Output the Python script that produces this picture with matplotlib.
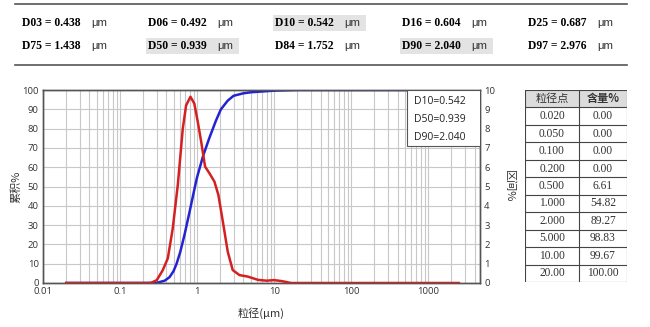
import matplotlib
matplotlib.use("Agg")
import matplotlib.pyplot as plt
import matplotlib.patches as patches
from matplotlib.lines import Line2D
from matplotlib.ticker import FixedLocator, FixedFormatter, LogLocator, NullFormatter

plt.rcParams['font.family'] = ['Open Sans', 'Noto Sans CJK SC', 'DejaVu Sans']

# Характерные диаметры (верхняя сводка)
d_names_row1 = ['D03', 'D06', 'D10', 'D16', 'D25']
d_values_row1 = ['0.438', '0.492', '0.542', '0.604', '0.687']
d_names_row2 = ['D75', 'D50', 'D84', 'D90', 'D97']
d_values_row2 = ['1.438', '0.939', '1.752', '2.040', '2.976']
highlighted = ['D10', 'D50', 'D90']

# Кумулятивное распределение (%), размер в мкм
cum_size = [0.02, 0.1, 0.2, 0.3, 0.38, 0.438, 0.492, 0.5, 0.542, 0.604, 0.687,
            0.8, 0.939, 1.0, 1.2, 1.438, 1.752, 2.0, 2.04, 2.5, 2.976, 4.0,
            5.0, 10.0, 20.0, 2500.0]
cum_value = [0.0, 0.0, 0.0, 0.1, 1.2, 3.0, 6.0, 6.61, 10.0, 16.0, 25.0,
             37.0, 50.0, 54.82, 66.0, 75.0, 84.0, 89.27, 90.0, 94.5, 97.0, 98.3,
             98.83, 99.67, 100.0, 100.0]

# Дифференциальное распределение (%)
diff_size = [0.02, 0.25, 0.3, 0.359, 0.417, 0.483, 0.562, 0.652, 0.72, 0.82,
             0.92, 1.02, 1.13, 1.27, 1.45, 1.68, 1.89, 2.16, 2.5, 2.9, 3.55,
             4.57, 6.2, 8.0, 10.0, 12.5, 16.6, 2500.0]
diff_value = [0.0, 0.0, 0.15, 0.67, 1.28, 2.83, 5.08, 8.0, 9.2, 9.65,
              9.3, 8.36, 7.32, 6.03, 5.68, 5.25, 4.56, 3.18, 1.62, 0.67, 0.41,
              0.33, 0.16, 0.12, 0.15, 0.1, 0.0, 0.0]

x_ticks = [0.01, 0.1, 1, 10, 100, 1000]
x_tick_labels = ['0.01', '0.1', '1', '10', '100', '1000']

legend_lines = ['D10=0.542', 'D50=0.939', 'D90=2.040']

# Таблица: точка размера и накопленное содержание
table_points = ['0.020', '0.050', '0.100', '0.200', '0.500',
                '1.000', '2.000', '5.000', '10.00', '20.00']
table_content = ['0.00', '0.00', '0.00', '0.00', '6.61',
                 '54.82', '89.27', '98.83', '99.67', '100.00']

W, H = 650, 327
fig = plt.figure(figsize=(W / 100, H / 100), dpi=100)


def fx(px):
    return px / W


def fy(py):
    return 1 - py / H


# --- верхняя сводка ---
for yl in (4, 65):
    fig.add_artist(Line2D([fx(15), fx(627)], [fy(yl), fy(yl)],
                          color='#555555', linewidth=1.2))

col_x = [22, 148, 275, 402, 528]
rows = [(23, d_names_row1, d_values_row1), (46, d_names_row2, d_values_row2)]
for row_y, names, vals in rows:
    for cx, name, val in zip(col_x, names, vals):
        if name in highlighted:
            fig.add_artist(patches.Rectangle((fx(cx - 2), fy(row_y + 8)), fx(93), 16 / H,
                                             transform=fig.transFigure,
                                             facecolor='#e3e3e3', edgecolor='none'))
        fig.text(fx(cx), fy(row_y), f'{name} = {val}', fontsize=8.4,
                 family='Liberation Serif', weight='bold', ha='left', va='center')
        fig.text(fx(cx + 69), fy(row_y), 'μm', fontsize=8.2,
                 family='Liberation Sans', ha='left', va='center', color='#333333')

# --- график ---
ax = fig.add_axes([fx(43), fy(283), fx(480 - 43), (283 - 90) / H])
ax.set_xscale('log')
ax.set_xlim(0.01, 4700)
ax.set_ylim(0, 100)

ax.plot(cum_size, cum_value, color='#2323d2', linewidth=1.8, zorder=3)

ax2 = ax.twinx()
ax2.set_ylim(0, 10)
ax2.plot(diff_size, diff_value, color='#d42020', linewidth=1.8, zorder=3)

ax.xaxis.set_major_locator(FixedLocator(x_ticks))
ax.xaxis.set_major_formatter(FixedFormatter(x_tick_labels))
ax.xaxis.set_minor_locator(LogLocator(base=10, subs=range(2, 10), numticks=20))
ax.xaxis.set_minor_formatter(NullFormatter())
ax.set_yticks(range(0, 101, 10))
ax2.set_yticks(range(0, 11, 1))

ax.grid(True, which='both', axis='x', color='#c8c8c8', linewidth=0.8)
ax.grid(True, which='major', axis='y', color='#c8c8c8', linewidth=0.8)
ax.set_axisbelow(True)

for a in (ax, ax2):
    a.tick_params(which='both', length=0, labelsize=6.8, colors='#333333', pad=3)
    for s in a.spines.values():
        s.set_color('#555555')
        s.set_linewidth(1.0)

ax.set_xlabel('粒径(μm)', fontsize=8, color='#333333', labelpad=8,
              family=['Noto Sans CJK SC', 'DejaVu Sans'])
ax.set_ylabel('累积%', fontsize=8, color='#333333', labelpad=1,
              family=['Noto Sans CJK SC', 'DejaVu Sans'])
ax2.set_ylabel('区间%', fontsize=8, color='#333333', rotation=270, labelpad=14,
               family=['Noto Sans CJK SC', 'DejaVu Sans'])

# рамка со значениями D10/D50/D90
ax2.add_artist(patches.Rectangle((fx(407), fy(146)), fx(74), 56 / H,
                                 transform=fig.transFigure, facecolor='white',
                                 edgecolor='#555555', linewidth=0.8, zorder=5))
for i, txt in enumerate(legend_lines):
    fig.text(fx(414), fy(101 + i * 18), txt, fontsize=7.5, color='#222222',
             ha='left', va='center', zorder=6)

# --- таблица ---
axt = fig.add_axes([fx(525), fy(282), fx(627 - 525), (282 - 90) / H])
axt.set_xlim(0, 2)
axt.set_ylim(11, 0)
axt.axis('off')
axt.add_patch(patches.Rectangle((0, 0), 2, 1, facecolor='#dcdcdc', edgecolor='none'))
for r in range(12):
    axt.plot([0, 2], [r, r], color='#444444', linewidth=0.8)
for c in (0, 1.06, 2):
    axt.plot([c, c], [0, 11], color='#444444', linewidth=0.8)

axt.text(0.53, 0.5, '粒径点', ha='center', va='center', fontsize=8,
         family=['Noto Sans CJK SC', 'DejaVu Sans'], color='#333333')
axt.text(1.53, 0.5, '含量%', ha='center', va='center', fontsize=8,
         family=['Noto Sans CJK SC', 'DejaVu Sans'], color='#333333', weight='bold')
for i, (p, v) in enumerate(zip(table_points, table_content)):
    axt.text(0.53, i + 1.5, p, ha='center', va='center', fontsize=8.3,
             family='Liberation Serif', color='#333333')
    axt.text(1.53, i + 1.5, v, ha='center', va='center', fontsize=8.3,
             family='Liberation Serif', color='#333333')

fig.savefig('out.png', dpi=100)
